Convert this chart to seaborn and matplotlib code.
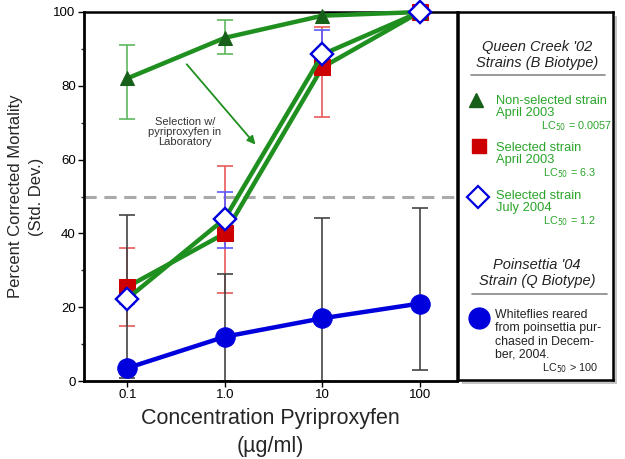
import numpy as np
import pandas as pd
import matplotlib
matplotlib.use("Agg")
import matplotlib.pyplot as plt
import seaborn as sns
from matplotlib.patches import Rectangle

# ---------------- data ----------------
conc = [0.1, 1.0, 10, 100]
conc_labels = ["0.1", "1.0", "10", "100"]

nonsel = [82, 93, 99, 100]
nonsel_lo = [71, 88.5, 99, 100]
nonsel_hi = [91, 97.8, 99, 100]

sel03 = [25.5, 40, 85, 100]
sel03_lo = [15, 23.8, 71.5, 100]
sel03_hi = [36, 58.2, 96, 100]

sel04 = [22.3, 44, 88.5, 100]
sel04_lo = [21, 36, 83, 100]
sel04_hi = [23.5, 51.3, 95, 100]

poin = [3.5, 12, 17, 21]
poin_lo = [0.7, 0, 0, 3]
poin_hi = [45, 29, 44.3, 47]

yticks = [0, 20, 40, 60, 80, 100]

GREEN = "#1f8f1f"
DKGREEN = "#17601a"
RED = "#cc0000"
BLUE = "#0000dd"
TXTGREEN = "#2aa52a"

sns.set_theme(style="white")
plt.rcParams["font.family"] = ["Liberation Sans", "DejaVu Sans"]

fig = plt.figure(figsize=(6.25, 4.59), dpi=100)
ax = fig.add_axes([84/625, 1-381/459, 373/625, 369/459])

def errs(y, lo, hi):
    y = np.array(y, float)
    return np.vstack([y - np.array(lo), np.array(hi) - y])

# error bars
ax.errorbar(conc, nonsel, yerr=errs(nonsel, nonsel_lo, nonsel_hi), fmt="none",
            ecolor="#5cb85c", elinewidth=1.2, capsize=6, capthick=1.2, zorder=2)
ax.errorbar(conc, sel03, yerr=errs(sel03, sel03_lo, sel03_hi), fmt="none",
            ecolor="#e85a5a", elinewidth=1.2, capsize=6, capthick=1.2, zorder=2)
ax.errorbar(conc, sel04, yerr=errs(sel04, sel04_lo, sel04_hi), fmt="none",
            ecolor="#5a5aff", elinewidth=1.2, capsize=6, capthick=1.2, zorder=2)
ax.errorbar(conc, poin, yerr=errs(poin, poin_lo, poin_hi), fmt="none",
            ecolor="#444444", elinewidth=1.2, capsize=6, capthick=1.2, zorder=2)

# 50% line
ax.axhline(50, color="#aaaaaa", lw=2.2, ls=(0, (4, 2.5)), zorder=1)

df = pd.DataFrame({"conc": conc, "nonsel": nonsel, "sel03": sel03,
                   "sel04": sel04, "poin": poin})

LW = 3.2
sns.lineplot(data=df, x="conc", y="sel03", ax=ax, color=GREEN, lw=LW,
             marker="s", markersize=11, markerfacecolor=RED, markeredgecolor=RED,
             zorder=3, clip_on=False)
sns.lineplot(data=df, x="conc", y="sel04", ax=ax, color=GREEN, lw=LW,
             marker="D", markersize=11, markerfacecolor="white", markeredgecolor=BLUE,
             markeredgewidth=1.6, zorder=4, clip_on=False)
sns.lineplot(data=df, x="conc", y="nonsel", ax=ax, color=GREEN, lw=LW,
             marker="^", markersize=10, markerfacecolor=DKGREEN, markeredgecolor=DKGREEN,
             zorder=3, clip_on=False)
# redraw diamonds on top at the shared 100 point
sns.lineplot(data=df, x="conc", y="sel04", ax=ax, color="none", lw=0,
             marker="D", markersize=11, markerfacecolor="white", markeredgecolor=BLUE,
             markeredgewidth=1.6, zorder=5, clip_on=False)
sns.lineplot(data=df, x="conc", y="poin", ax=ax, color=BLUE, lw=LW,
             marker="o", markersize=14, markerfacecolor=BLUE, markeredgecolor=BLUE,
             zorder=4, clip_on=False)

ax.set_xscale("log")
ax.set_xlim(0.036, 240)
ax.set_ylim(0, 100)
ax.set_xticks(conc)
ax.set_xticklabels(conc_labels)
ax.minorticks_off()
ax.set_yticks(yticks)
ax.set_yticks([10, 30, 50, 70, 90], minor=True)
ax.tick_params(axis="both", which="major", direction="out", length=4, width=1,
               labelsize=9.5, colors="black", pad=2)
ax.tick_params(axis="y", which="minor", direction="out", length=2, width=1, left=True)
ax.tick_params(left=True, bottom=True)
for s in ["left", "bottom"]:
    ax.spines[s].set_linewidth(2)
    ax.spines[s].set_color("black")
for s in ["top", "right"]:
    ax.spines[s].set_linewidth(1.8)
    ax.spines[s].set_color("black")

ax.set_xlabel("Concentration Pyriproxyfen\n(\u00b5g/ml)", fontsize=15.5, linespacing=1.4,
              labelpad=5)
ax.set_ylabel("Percent Corrected Mortality\n(Std. Dev.)", fontsize=12, labelpad=7,
              linespacing=1.45)

ax.annotate("", xy=(2.15, 63.5), xytext=(0.39, 86.4),
            arrowprops=dict(arrowstyle="-|>", color=GREEN, lw=1.3, mutation_scale=12))
ax.text(0.39, 67.5, "Selection w/\npyriproxyfen in\nLaboratory", fontsize=8, ha="center",
        va="center", color="#333333", linespacing=1.05)

# ---------------- legend panel ----------------
x0, x1, y0, y1 = 458, 613, 12, 380
shadow = Rectangle(((x0+4)/625, 1-(y1+4)/459), (x1-x0)/625, (y1-y0)/459,
                   transform=fig.transFigure, facecolor="#c4c4c4", edgecolor="none",
                   zorder=-5)
fig.patches.append(shadow)
lax = fig.add_axes([x0/625, 1-y1/459, (x1-x0)/625, (y1-y0)/459])
lax.set_zorder(5)
lax.set_xlim(x0, x1)
lax.set_ylim(y1, y0)
lax.set_xticks([]); lax.set_yticks([])
lax.set_facecolor("white")
for s in lax.spines.values():
    s.set_linewidth(1.8); s.set_color("black")

lax.text(537, 55, "Queen Creek '02\nStrains (B Biotype)", fontsize=10.5, style="italic",
         ha="center", va="center", color="#222222", linespacing=1.1)
lax.plot([471, 605], [75, 75], color="#888888", lw=1.2)

lax.plot(476, 100, marker="^", markersize=10, color=DKGREEN)
lax.text(496, 107, "Non-selected strain\nApril 2003", fontsize=9.3, color=TXTGREEN,
         ha="left", va="center", linespacing=1.1)
lax.text(612, 126, "LC$_{50}$ = 0.0057", fontsize=7.8, color=TXTGREEN, ha="right", va="center")

lax.plot(479, 146, marker="s", markersize=10, color=RED)
lax.text(496, 154, "Selected strain\nApril 2003", fontsize=9.3, color=TXTGREEN,
         ha="left", va="center", linespacing=1.1)
lax.text(596, 173, "LC$_{50}$ = 6.3", fontsize=7.8, color=TXTGREEN, ha="right", va="center")

lax.plot(478, 197, marker="D", markersize=11, markerfacecolor="white",
         markeredgecolor=BLUE, markeredgewidth=1.6)
lax.text(496, 202, "Selected strain\nJuly 2004", fontsize=9.3, color=TXTGREEN,
         ha="left", va="center", linespacing=1.1)
lax.text(596, 221, "LC$_{50}$ = 1.2", fontsize=7.8, color=TXTGREEN, ha="right", va="center")

lax.text(537, 273, "Poinsettia '04\nStrain (Q Biotype)", fontsize=10.5, style="italic",
         ha="center", va="center", color="#222222", linespacing=1.1)
lax.plot([472, 607], [294, 294], color="#888888", lw=1.2)

lax.plot(479, 318, marker="o", markersize=15, color=BLUE)
lax.text(495, 335, "Whiteflies reared\nfrom poinsettia pur-\nchased in Decem-\nber, 2004.",
         fontsize=8.8, color="#222222", ha="left", va="center", linespacing=1.12)
lax.text(598, 368, "LC$_{50}$ > 100", fontsize=7.8, color="#222222", ha="right", va="center")

fig.savefig("out.png", dpi=100)
